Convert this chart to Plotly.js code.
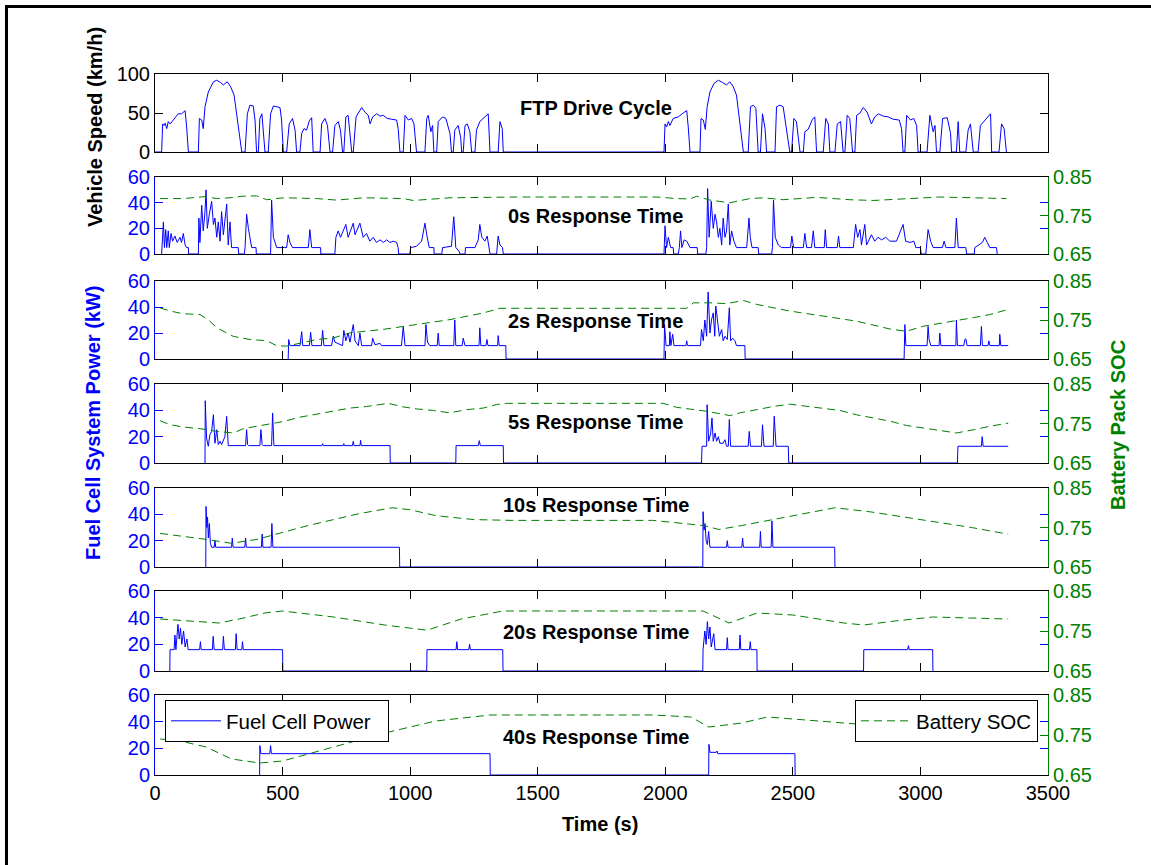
<!DOCTYPE html>
<html><head><meta charset="utf-8">
<script src="https://cdn.plot.ly/plotly-3.0.1.min.js"></script>
<style>html,body{margin:0;padding:0;background:#fff}#chart{width:1151px;height:865px}</style>
</head><body><div id="chart"></div>
<script>
// ---------------- DATA ----------------
const xTicks = [0,500,1000,1500,2000,2500,3000,3500];
const panelTitles = ["FTP Drive Cycle","0s Response Time","2s Response Time","5s Response Time","10s Response Time","20s Response Time","40s Response Time"];

// Vehicle speed, first UDDS
const speedT1 = [0,26,30,35,40,46,52,59,72,91,104,118,124,131,170,174,183,189,196,209,229,242,257,268,283,296,310,323,336,340,353,362,372,385,392,398,405,411,419,424,431,444,453,464,490,496,503,516,526,539,549,555,568,575,584,594,605,614,620,647,653,666,676,686,696,705,718,727,735,740,748,757,764,771,777,788,797,810,823,836,843,853,869,882,895,910,927,947,953,960,973,980,993,1006,1015,1025,1058,1065,1071,1081,1088,1093,1104,1110,1127,1140,1156,1162,1169,1175,1188,1198,1202,1208,1215,1224,1234,1241,1254,1260,1273,1286,1299,1306,1313,1345,1352,1361,1365];
const speedV1 = [0,0,36,34,37,30,39,36,41,49,49,53,32,0,0,43,41,30,58,77,90,92,89,86,90,84,73,41,6,0,0,49,60,59,41,0,0,43,49,28,0,0,49,59,57,41,0,0,36,43,28,0,0,24,30,28,40,44,0,0,36,43,34,0,0,34,39,28,0,0,45,47,24,0,0,45,50,57,51,47,36,45,49,46,47,43,42,41,30,0,0,47,41,43,36,0,0,43,47,26,34,0,0,39,45,43,24,0,0,28,34,19,0,0,34,36,26,0,0,28,39,43,47,49,0,0,39,30,0];
// Vehicle speed, second UDDS
const speedT2 = [1995,1999,2005,2012,2018,2031,2051,2070,2084,2090,2097,2136,2140,2149,2157,2164,2175,2191,2208,2225,2240,2253,2266,2279,2292,2306,2325,2334,2345,2355,2364,2373,2381,2391,2397,2430,2436,2449,2462,2478,2488,2495,2504,2514,2528,2541,2547,2560,2577,2586,2593,2619,2629,2639,2645,2665,2674,2687,2697,2704,2713,2723,2734,2743,2750,2763,2776,2791,2808,2821,2835,2854,2874,2893,2917,2926,2932,2939,2946,2961,2974,2985,2991,3026,3037,3050,3057,3063,3076,3087,3105,3118,3122,3141,3148,3154,3178,3187,3196,3207,3226,3235,3252,3265,3275,3279,3308,3318,3328,3337];
const speedV2 = [0,36,32,39,34,43,45,50,53,32,0,0,43,41,29,58,77,88,92,89,86,90,84,73,41,0,0,58,60,56,0,0,49,30,0,0,58,60,58,19,0,0,43,39,0,0,26,29,42,45,0,0,43,36,0,0,36,39,0,0,47,43,0,0,47,50,57,51,36,45,49,46,45,42,41,30,0,0,47,41,43,34,0,0,47,26,34,0,0,43,44,24,0,0,39,0,0,28,36,0,0,34,41,45,49,0,0,36,30,0];

// Fuel cell power (kW) and battery SOC for each response time
const fc0T = [26,33,37,42,46,52,56,63,69,78,87,98,104,111,118,124,131,131.5,170,172,176,183,189,196,200,205,213,222,229,235,242,248,255,261,268,274,281,287,294,300,326,328,350,353,359,366,372,379,396,397,453,457,464,470,477,516,522,529,539,601,607,614,649,650,705,709,718,727,738,748,757,768,777,784,793,803,816,829,842,855,868,882,895,908,921,934,947,953,955,999,1002,1025,1045,1058,1065,1075,1093,1094,1124,1127,1162,1171,1179,1192,1195,1215,1217,1254,1267,1273,1281,1293,1302,1310,1313,1339,1341,1345,1352,1362,1365,
 1995,1999,2005,2012,2021,2031,2033,2051,2055,2060,2065,2074,2084,2097,2125,2127,2159,2162,2166,2172,2180,2188,2195,2201,2208,2214,2221,2227,2234,2240,2247,2253,2260,2269,2279,2319,2328,2333,2340,2364,2366,2417,2420,2424,2431,2443,2456,2491,2496,2503,2541,2547,2554,2573,2580,2586,2623,2627,2632,2674,2679,2684,2737,2746,2754,2763,2769,2782,2789,2808,2821,2834,2848,2864,2880,2906,2926,2932,2942,2959,2974,2982,3000,3003,3021,3024,3030,3040,3050,3086,3093,3100,3135,3141,3148,3178,3181,3211,3213,3243,3252,3262,3272,3298,3301];
const fc0P = [0,25,5,19,5,18,5,16,10,14,9,13,9,16,7,5,5,0,0,28,9,38,18,33,50,20,31,41,23,28,13,25,10,33,15,28,39,7,25,5,5,0,0,5,31,20,13,5,5,0,0,42,13,10,5,5,15,9,5,5,19,5,5,0,0,13,18,13,19,23,13,19,24,15,19,24,13,16,10,13,9,11,9,11,9,10,9,5,0,0,5,6,10,24,15,5,5,0,0,5,6,29,5,2,0,0,5,5,11,23,13,10,14,5,0,0,5,14,7,5,0,
 0,22,5,13,5,5,0,0,5,18,5,11,10,5,5,0,0,5,51,13,41,20,31,25,13,20,7,28,13,18,39,7,18,10,5,5,28,13,5,5,0,0,5,42,13,7,5,5,14,5,5,16,5,5,18,5,5,19,5,5,14,5,5,23,13,19,7,23,7,15,10,13,11,13,10,10,19,23,10,9,10,5,5,0,0,5,19,10,5,5,10,5,5,28,5,5,0,0,5,9,13,9,5,5,0];
const soc0T = [20,111,196,242,294,340,398,438,503,634,712,816,973,1012,1156,1286,1417,1730,1966,2044,2097,2123,2175,2253,2332,2384,2462,2593,2723,2815,2945,3076,3207,3337];
const soc0V = [0.794,0.794,0.799,0.794,0.796,0.800,0.801,0.791,0.796,0.794,0.790,0.796,0.794,0.789,0.796,0.797,0.798,0.798,0.798,0.794,0.793,0.800,0.790,0.783,0.794,0.796,0.791,0.797,0.791,0.789,0.794,0.798,0.796,0.794];

const fc2T = [522,524,529,568,575,579,605,610,615,652,657,662,692,699,705,735,740,748,757,764,777,784,797,803,810,849,853,862,882,888,966,973,980,1058,1062,1068,1077,1106,1110,1114,1171,1175,1179,1204,1208,1215,1270,1273,1277,1297,1301,1305,1343,1345,1349,1375,1376,
 1995,1997,2003,2016,2018,2022,2029,2034,2081,2084,2087,2138,2142,2149,2155,2162,2168,2175,2181,2188,2194,2198,2205,2212,2221,2227,2234,2243,2251,2256,2264,2273,2279,2312,2313,
 2936,2939,2943,3026,3030,3034,3041,3073,3076,3080,3139,3141,3145,3170,3174,3178,3183,3235,3239,3243,3265,3268,3272,3309,3311,3315,3344];
const fc2P = [0,15,10.3,10.3,21,10.3,10.3,20.6,10.3,10.3,22,10.3,10.3,17.5,13,10.3,22,14,20,13,26.5,14,10.3,20,10.3,10.3,16,11,12,10.3,10.3,25,10.3,10.3,26.5,13,10.3,10.3,20,10.3,10.3,30,10.3,10.3,16,10.3,10.3,24,10.3,10.3,15,10.3,10.3,18,10.3,10.3,0,
 0,26.5,10.3,10.3,21,10.3,19,10.3,10.3,14,10.3,10.3,22.7,14,30,17.5,51.5,20,30,35.5,17.5,40.7,27.8,17.5,22.7,14,17.5,15,39.4,14,16,14,10.3,10.3,0,
 0,26.5,10.3,10.3,25,15,10.3,10.3,20,10.3,10.3,30,10.3,10.3,15,15.5,10.3,10.3,25,10.3,10.3,14,10.3,10.3,19,10.3,10.3];
const soc2T = [20,59,111,176,209,242,307,372,438,477,516,555,634,699,764,895,1025,1156,1286,1352,1730,2084,2110,2175,2240,2306,2358,2423,2488,2619,2750,2880,2945,3011,3076,3141,3207,3272,3344];
const soc2V = [0.781,0.773,0.766,0.764,0.751,0.730,0.708,0.700,0.697,0.684,0.683,0.689,0.700,0.704,0.717,0.726,0.738,0.751,0.768,0.780,0.780,0.780,0.794,0.794,0.792,0.800,0.790,0.781,0.773,0.760,0.747,0.727,0.721,0.734,0.741,0.747,0.756,0.764,0.777];

const fc5T = [196,197,202,209,215,222,229,235,242,248,255,261,274,281,287,355,359,363,367,411,415,420,424,457,461,466,654,657,660,738,740,743,774,777,780,803,806,808,921,922,1179,1180,1267,1271,1275,1365,1366,
 2142,2144,2162,2164,2170,2178,2183,2188,2195,2201,2208,2214,2227,2234,2240,2247,2251,2256,2325,2329,2334,2377,2381,2387,2423,2427,2434,2482,2484,3145,3147,3239,3242,3246,3344];
const fc5P = [0,47.3,19,12.7,21.5,24,36.7,15,25.3,14,16.5,14,20,35.4,13.2,13.2,25.3,14,13.2,13.2,25.3,14,13.2,13.2,38,13.2,13.2,14.7,13.2,13.2,14.7,13.2,13.2,16.5,13.2,13.2,17.2,13.2,13.2,0,0,13.2,13.2,17,13.2,13.2,0,
 0,12.7,12.7,44.3,16.5,22.8,34.2,16.5,22.8,16.5,20,15,15,17.7,12.7,12.7,33,12.7,12.7,24,12.7,12.7,29,12.7,12.7,35.5,12.7,12.7,0,0,12.7,12.7,20,12.7,12.7];
const soc5T = [20,59,111,176,242,307,346,398,451,503,568,634,699,764,829,914,973,1025,1091,1156,1221,1286,1339,1378,1730,1992,2044,2097,2162,2253,2293,2358,2423,2488,2554,2619,2684,2750,2880,2945,3011,3076,3141,3207,3272,3344];
const soc5V = [0.757,0.747,0.741,0.737,0.730,0.726,0.737,0.743,0.749,0.755,0.766,0.774,0.783,0.789,0.793,0.801,0.792,0.787,0.783,0.777,0.785,0.789,0.798,0.801,0.801,0.801,0.791,0.787,0.781,0.770,0.777,0.785,0.793,0.799,0.793,0.788,0.783,0.772,0.756,0.745,0.739,0.732,0.726,0.734,0.743,0.751];

const fc10T = [199,200,203,206,209,213,217,222,232,235,238,300,303,306,352,355,358,417,420,423,455,458,462,958,959,
 2147,2148,2152,2156,2160,2165,2170,2175,2240,2243,2246,2300,2303,2306,2370,2373,2376,2415,2418,2422,2664,2665];
const fc10P = [0,46,30,38,22,33,18,15,15,20,15,15,22,15,15,22,15,15,25,15,15,33,15,15,0,
 0,42,28,33,20,17,27,15,15,20,15,15,22,15,15,27,15,15,35,15,15,0];
const soc10T = [20,120,200,300,400,600,800,930,1000,1100,1250,1400,1950,2150,2210,2300,2500,2665,2800,3000,3200,3344];
const soc10V = [0.735,0.727,0.72,0.71,0.72,0.755,0.785,0.80,0.795,0.78,0.77,0.768,0.768,0.755,0.745,0.755,0.78,0.80,0.79,0.77,0.75,0.733];

const fc20T = [58,59,75,78,82,90,95,100,105,112,118,125,130,175,178,181,225,228,232,265,268,272,315,318,322,340,343,346,500,501,
 1065,1066,1180,1183,1186,1230,1233,1236,1363,1364,
 2147,2148,2155,2160,2165,2170,2175,2180,2190,2195,2240,2243,2246,2290,2293,2296,2330,2333,2336,2359,2360,
 2777,2778,2950,2953,2956,3048,3049];
const fc20P = [0,16,16,27,16,35,24,32,20,30,18,24,16,16,22,16,16,26,16,16,26,16,16,28,16,16,22,16,16,0,
 0,16,16,22,16,16,20,16,16,0,
 0,16,30,20,37,24,33,18,28,16,16,25,16,16,27,16,16,22,16,16,0,
 0,16,16,19,16,16,0];
const soc20T = [20,150,250,330,430,500,700,900,1066,1200,1364,1950,2148,2250,2360,2500,2700,2778,2900,3049,3344];
const soc20V = [0.78,0.775,0.77,0.78,0.795,0.80,0.785,0.765,0.752,0.78,0.80,0.80,0.80,0.77,0.795,0.79,0.77,0.765,0.775,0.785,0.78];

const fc40T = [410,411,415,450,453,456,1313,1314,2170,2171,2175,2200,2203,2206,2508,2509];
const fc40P = [0,22,16,16,22,16,16,0,0,23,17,17,18,16,16,0];
const soc40T = [20,100,200,300,411,500,700,900,1100,1313,1950,2100,2171,2300,2400,2508,2700,2900,3100,3344];
const soc40V = [0.74,0.735,0.72,0.69,0.68,0.685,0.72,0.755,0.785,0.80,0.80,0.795,0.77,0.78,0.795,0.79,0.78,0.77,0.755,0.737];

// ---------------- LAYOUT ----------------
const W = 1151, H = 865;
const X0 = 155, X1 = 1048;
const panelPx = [[74,152],[177,254],[281,359],[384,463],[488,567],[591,671],[695,775]];
const fx = p => p / W, fy = p => 1 - p / H;
const BLUE = '#0000ff', GREEN = '#008000';
const FONT = 'Liberation Sans, Arial, sans-serif';

const layout = {
  width: W, height: H, margin: {l:0, r:0, t:0, b:0},
  paper_bgcolor: '#fff', plot_bgcolor: '#fff',
  font: {family: FONT, size: 20, color: '#000'},
  showlegend: true,
  legend: {x: fx(165), y: fy(700), xanchor: 'left', yanchor: 'top', bgcolor: '#fff', bordercolor: '#000', borderwidth: 1, itemwidth: 50, font: {size: 20.5, color: '#000'}},
  legend2: {x: fx(1038), y: fy(700), xanchor: 'right', yanchor: 'top', bgcolor: '#fff', bordercolor: '#000', borderwidth: 1, itemwidth: 50, font: {size: 20.5, color: '#000'}},
  annotations: [], shapes: []
};

for (let i = 0; i < 7; i++) {
  const n = i + 1;
  layout['xaxis' + n] = {
    domain: [fx(X0), fx(X1)], range: [0, 3500], anchor: 'y' + n,
    tickvals: xTicks, ticks: 'inside', ticklen: 8, tickcolor: '#000',
    showline: true, linecolor: '#000', linewidth: 1, mirror: 'ticks',
    showgrid: false, zeroline: false, showticklabels: i === 6,
    tickfont: {size: 20, color: '#000'}
  };
  const dom = [fy(panelPx[i][1]), fy(panelPx[i][0])];
  if (i === 0) {
    layout.yaxis = {domain: dom, range: [0, 100], anchor: 'x', tickvals: [0,50,100],
      ticks: 'inside', ticklen: 8, tickcolor: '#000', showline: true, linecolor: '#000', mirror: 'ticks',
      showgrid: false, zeroline: false, tickfont: {size: 20, color: '#000'}};
  } else {
    layout['yaxis' + n] = {domain: dom, range: [0, 60], anchor: 'x' + n, tickvals: [0,20,40,60],
      ticks: 'inside', ticklen: 8, tickcolor: BLUE, showline: true, linecolor: BLUE, mirror: 'ticks',
      showgrid: false, zeroline: false, tickfont: {size: 20, color: BLUE}};
    layout['yaxis' + (n + 6)] = {domain: dom, range: [0.65, 0.85], overlaying: 'y' + n, side: 'right', anchor: 'x' + n,
      tickvals: [0.65,0.75,0.85], ticktext: ['0.65','0.75','0.85'],
      ticks: 'inside', ticklen: 8, tickcolor: GREEN, showline: true, linecolor: GREEN,
      showgrid: false, zeroline: false, tickfont: {size: 20, color: GREEN}};
  }
}

// panel titles
const titleY = [108, 216, 321, 422, 505, 632, 737];
panelTitles.forEach((t, i) => layout.annotations.push({
  text: '<b>' + t + '</b>', xref: 'paper', yref: 'paper', x: fx(596), y: fy(titleY[i]),
  xanchor: 'center', yanchor: 'middle', showarrow: false, font: {size: 20, color: '#000'}
}));
// axis titles
layout.annotations.push({text: '<b>Vehicle Speed (km/h)</b>', xref: 'paper', yref: 'paper', x: fx(95), y: fy(127), textangle: -90, showarrow: false, xanchor: 'center', yanchor: 'middle', font: {size: 20, color: '#000'}});
layout.annotations.push({text: '<b>Fuel Cell System Power (kW)</b>', xref: 'paper', yref: 'paper', x: fx(93), y: fy(423), textangle: -90, showarrow: false, xanchor: 'center', yanchor: 'middle', font: {size: 20, color: BLUE}});
layout.annotations.push({text: '<b>Battery Pack SOC</b>', xref: 'paper', yref: 'paper', x: fx(1118), y: fy(425), textangle: -90, showarrow: false, xanchor: 'center', yanchor: 'middle', font: {size: 20, color: GREEN}});
layout.annotations.push({text: '<b>Time (s)</b>', xref: 'paper', yref: 'paper', x: fx(600), y: fy(824), showarrow: false, xanchor: 'center', yanchor: 'middle', font: {size: 20, color: '#000'}});
// outer frame (top and left edges)
layout.shapes.push({type: 'line', xref: 'paper', yref: 'paper', x0: fx(5), x1: 1, y0: fy(6.5), y1: fy(6.5), line: {color: '#000', width: 3}});
layout.shapes.push({type: 'line', xref: 'paper', yref: 'paper', x0: fx(6.5), x1: fx(6.5), y0: 0, y1: fy(5), line: {color: '#000', width: 3}});

// ---------------- TRACES ----------------
const traces = [];
traces.push({x: speedT1.concat(speedT2), y: speedV1.concat(speedV2), xaxis: 'x', yaxis: 'y', mode: 'lines',
  line: {color: BLUE, width: 1}, showlegend: false, hoverinfo: 'skip'});
const fcSets = [[fc0T, fc0P], [fc2T, fc2P], [fc5T, fc5P], [fc10T, fc10P], [fc20T, fc20P], [fc40T, fc40P]];
const socSets = [[soc0T, soc0V], [soc2T, soc2V], [soc5T, soc5V], [soc10T, soc10V], [soc20T, soc20V], [soc40T, soc40V]];
for (let k = 0; k < 6; k++) {
  const n = k + 2;
  traces.push({x: fcSets[k][0], y: fcSets[k][1], xaxis: 'x' + n, yaxis: 'y' + n, mode: 'lines',
    name: 'Fuel Cell Power\u00a0\u00a0', line: {color: BLUE, width: 1}, showlegend: k === 5, legend: 'legend', hoverinfo: 'skip'});
  traces.push({x: socSets[k][0], y: socSets[k][1], xaxis: 'x' + n, yaxis: 'y' + (n + 6), mode: 'lines',
    name: 'Battery SOC', line: {color: GREEN, width: 1, dash: '8px,5px'}, showlegend: k === 5, legend: 'legend2', hoverinfo: 'skip'});
}

Plotly.newPlot('chart', traces, layout, {displayModeBar: false, staticPlot: true});
</script></body></html>
